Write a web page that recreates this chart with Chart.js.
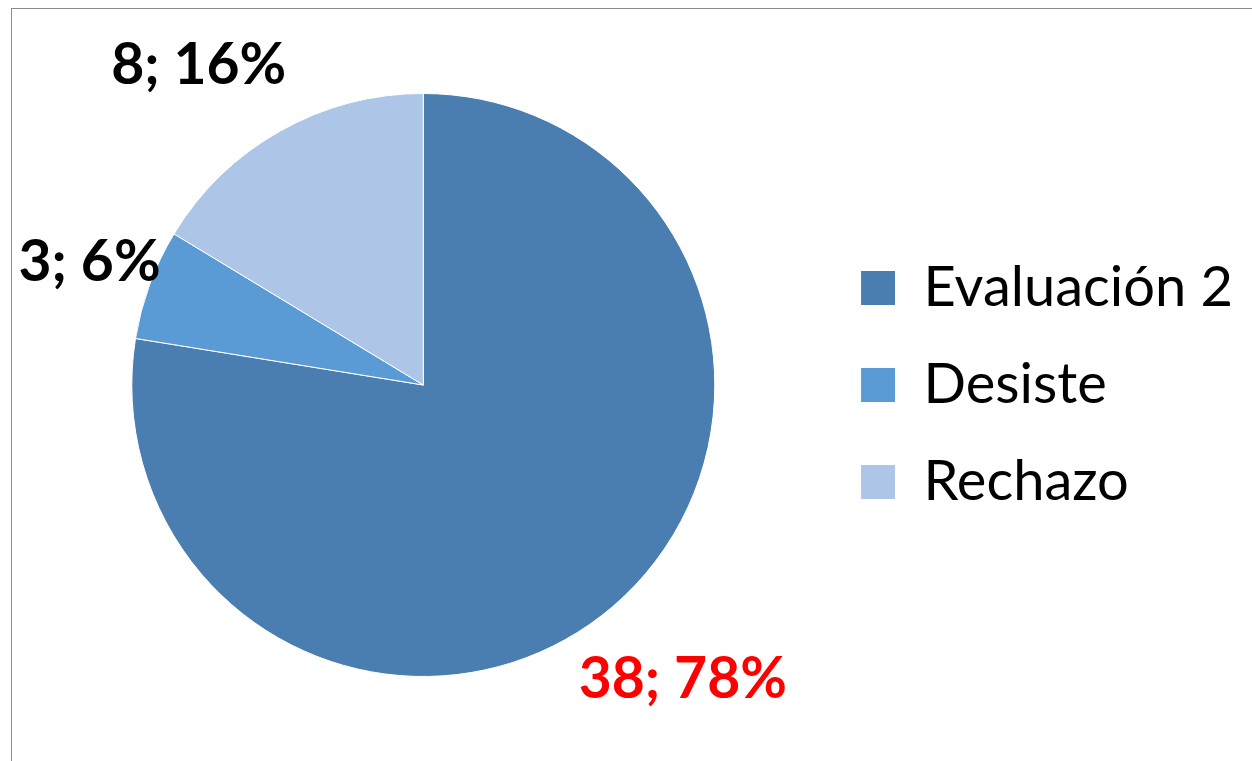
<!DOCTYPE html>
<html>
<head>
<meta charset="utf-8">
<script src="https://cdn.jsdelivr.net/npm/chart.js@4.4.1/dist/chart.umd.min.js"></script>
<style>
  html, body { margin: 0; padding: 0; background: #fff; overflow: hidden; }
  #wrap { position: relative; width: 1252px; height: 761px; }
  #frame { position: absolute; left: 11px; top: 8px; width: 1300px; height: 800px;
    border: 1.5px solid #8c8c8c; box-sizing: border-box; pointer-events: none; }
  canvas { position: absolute; left: 0; top: 0; }
</style>
</head>
<body>
<div id="wrap">
  <canvas id="pie" width="1252" height="761"></canvas>
  <div id="frame"></div>
</div>
<script>
  // Datos del gráfico
  const categories = ['Evaluación 2', 'Desiste', 'Rechazo'];
  const values = [38, 3, 8];

  // Estilo
  const sliceColors = ['#4a7eb0', '#5b9bd5', '#adc5e6'];
  const labelColors = ['#ff0000', '#000000', '#000000'];
  // colocación de etiquetas: factor de radio y ajuste angular (grados)
  const labelPlace = [{ k: 1.346, da: -1 }, { k: 1.22, da: 0 }, { k: 1.34, da: -5.7 }];

  const total = values.reduce((a, b) => a + b, 0);

  const outsideLabels = {
    id: 'outsideLabels',
    afterDatasetsDraw(chart) {
      const { ctx } = chart;
      const meta = chart.getDatasetMeta(0);
      ctx.save();
      ctx.font = 'bold 57px Lato';
      ctx.textAlign = 'center';
      ctx.textBaseline = 'middle';
      meta.data.forEach((arc, i) => {
        const p = labelPlace[i];
        const mid = (arc.startAngle + arc.endAngle) / 2 + p.da * Math.PI / 180;
        const d = arc.outerRadius * p.k;
        const x = arc.x + Math.cos(mid) * d;
        const y = arc.y + Math.sin(mid) * d;
        const pct = Math.round(values[i] / total * 100);
        ctx.fillStyle = labelColors[i];
        ctx.fillText(`${values[i]}; ${pct}%`, x, y);
      });
      ctx.restore();
    }
  };

  new Chart(document.getElementById('pie'), {
    type: 'pie',
    data: {
      labels: categories,
      datasets: [{
        data: values,
        backgroundColor: sliceColors,
        borderColor: '#ffffff',
        borderWidth: 1,
        hoverOffset: 0
      }]
    },
    options: {
      responsive: false,
      animation: false,
      events: [],
      layout: { padding: { left: 27, right: 9, top: 93, bottom: 84 } },
      plugins: {
        tooltip: { enabled: false },
        legend: {
          position: 'right',
          labels: {
            color: '#000',
            font: { family: 'Lato', size: 56 },
            boxWidth: 35,
            boxHeight: 35,
            padding: 41
          }
        }
      }
    },
    plugins: [outsideLabels]
  });
</script>
</body>
</html>
